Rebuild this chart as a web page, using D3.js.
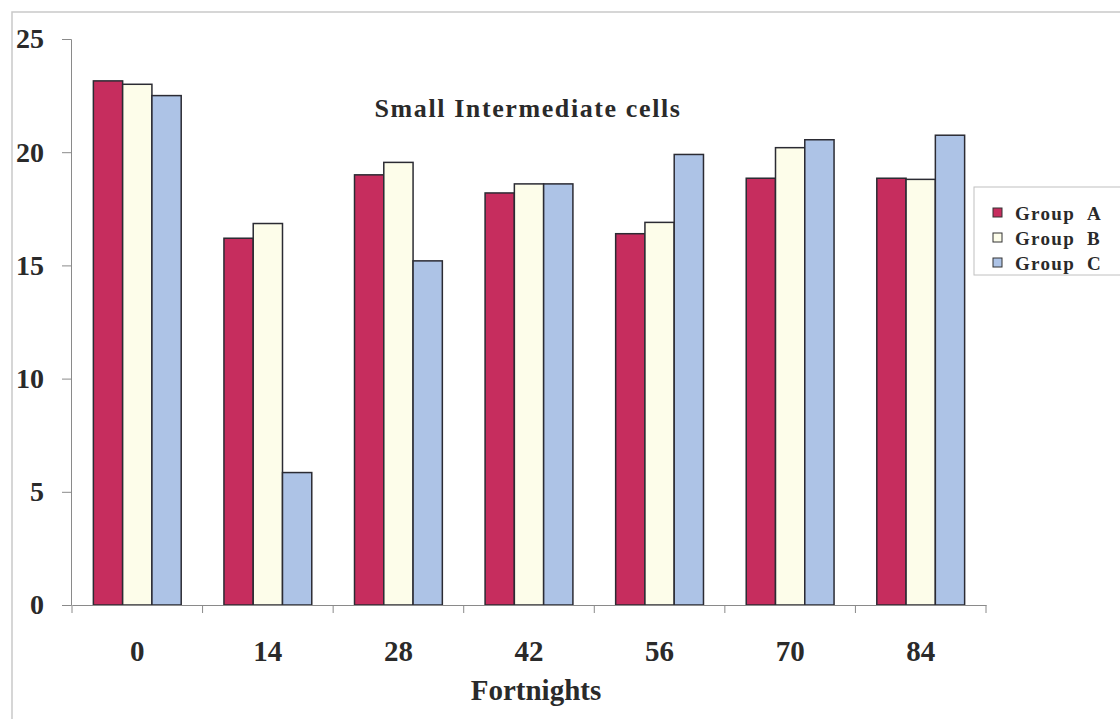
<!DOCTYPE html>
<html>
<head>
<meta charset="utf-8">
<script src="https://cdn.jsdelivr.net/npm/d3@7"></script>
<style>
  html, body { margin: 0; padding: 0; background: #ffffff; }
  svg { display: block; }
  text { font-family: "Liberation Serif", "Times New Roman", serif; font-weight: bold; fill: #2a2a2a; }
</style>
</head>
<body>
<svg id="chart" width="1120" height="719"></svg>
<script>
// Fortnights sampled and mean counts per group
const categories = ["0", "14", "28", "42", "56", "70", "84"];
const seriesNames = ["Group A", "Group B", "Group C"];
const groupA = [23.15, 16.2, 19.0, 18.2, 16.4, 18.85, 18.85];
const groupB = [23.0, 16.85, 19.55, 18.6, 16.9, 20.2, 18.8];
const groupC = [22.5, 5.85, 15.2, 18.6, 19.9, 20.55, 20.75];
const yTicks = [0, 5, 10, 15, 20, 25];
const colors = ["#c62d5e", "#fdfdea", "#adc3e6"];

const series = [groupA, groupB, groupC];
const svg = d3.select("#chart");

// outer frame
svg.append("path")
  .attr("d", "M12,719 L12,12 L1120,12")
  .attr("fill", "none").attr("stroke", "#c9c9c9").attr("stroke-width", 1.5);

const x0 = d3.scaleBand().domain(categories).range([72, 986]).paddingInner(0).paddingOuter(0);
const x1 = d3.scaleBand().domain(seriesNames).range([0, x0.bandwidth()]).paddingInner(0).paddingOuter(0.73);
const y = d3.scaleLinear().domain([0, 25]).range([605, 39]);

// y axis
const yAxis = svg.append("g")
  .attr("transform", "translate(71,0)")
  .call(d3.axisLeft(y).tickValues(yTicks).tickSize(9).tickPadding(18));
yAxis.select(".domain").attr("stroke", "#8a8a8a").attr("stroke-width", 1);
yAxis.selectAll(".tick line").attr("stroke", "#8a8a8a");
yAxis.selectAll(".tick text")
  .attr("font-size", 28).attr("fill", "#2a2a2a")
  .attr("font-family", "Liberation Serif").attr("font-weight", "bold");

// bars
const groups = svg.append("g").selectAll("g")
  .data(categories).join("g")
  .attr("transform", d => `translate(${x0(d)},0)`);
groups.selectAll("rect")
  .data((d, i) => seriesNames.map((s, k) => ({ s, k, v: series[k][i] })))
  .join("rect")
  .attr("x", d => x1(d.s))
  .attr("width", x1.bandwidth())
  .attr("y", d => y(d.v))
  .attr("height", d => y(0) - y(d.v))
  .attr("fill", d => colors[d.k])
  .attr("stroke", "#2b2b33").attr("stroke-width", 1.5);

// x axis
const xAxis = svg.append("g")
  .attr("transform", "translate(0,605)")
  .call(d3.axisBottom(x0).tickSize(0).tickPadding(35));
xAxis.select(".domain").attr("stroke", "#8a8a8a");
xAxis.selectAll(".tick text")
  .attr("font-size", 29).attr("fill", "#2a2a2a")
  .attr("font-family", "Liberation Serif").attr("font-weight", "bold");
// boundary ticks between categories
svg.append("g").selectAll("line")
  .data(d3.range(categories.length + 1))
  .join("line")
  .attr("x1", i => 72 + i * x0.step()).attr("x2", i => 72 + i * x0.step())
  .attr("y1", 605).attr("y2", 613)
  .attr("stroke", "#8a8a8a");

// titles
svg.append("text").attr("x", 528).attr("y", 117).attr("text-anchor", "middle")
  .attr("font-size", 26).attr("letter-spacing", 1.6).text("Small Intermediate cells");
svg.append("text").attr("x", 536).attr("y", 700).attr("text-anchor", "middle")
  .attr("font-size", 29).text("Fortnights");

// legend
const lg = svg.append("g");
lg.append("rect").attr("x", 974).attr("y", 187).attr("width", 160).attr("height", 88)
  .attr("fill", "#ffffff").attr("stroke", "#c0c0c0");
const items = lg.selectAll("g.item").data(seriesNames).join("g")
  .attr("transform", (d, i) => `translate(993,${208 + i * 25})`);
items.append("rect").attr("width", 9).attr("height", 9)
  .attr("fill", (d, i) => colors[i]).attr("stroke", "#333").attr("stroke-width", 1);
items.append("text").attr("x", 22).attr("y", 5).attr("dy", "0.35em").attr("font-size", 19)
  .attr("letter-spacing", 1.3)
  .text(d => d.replace(" ", "\u00a0\u00a0"));
</script>
</body>
</html>
